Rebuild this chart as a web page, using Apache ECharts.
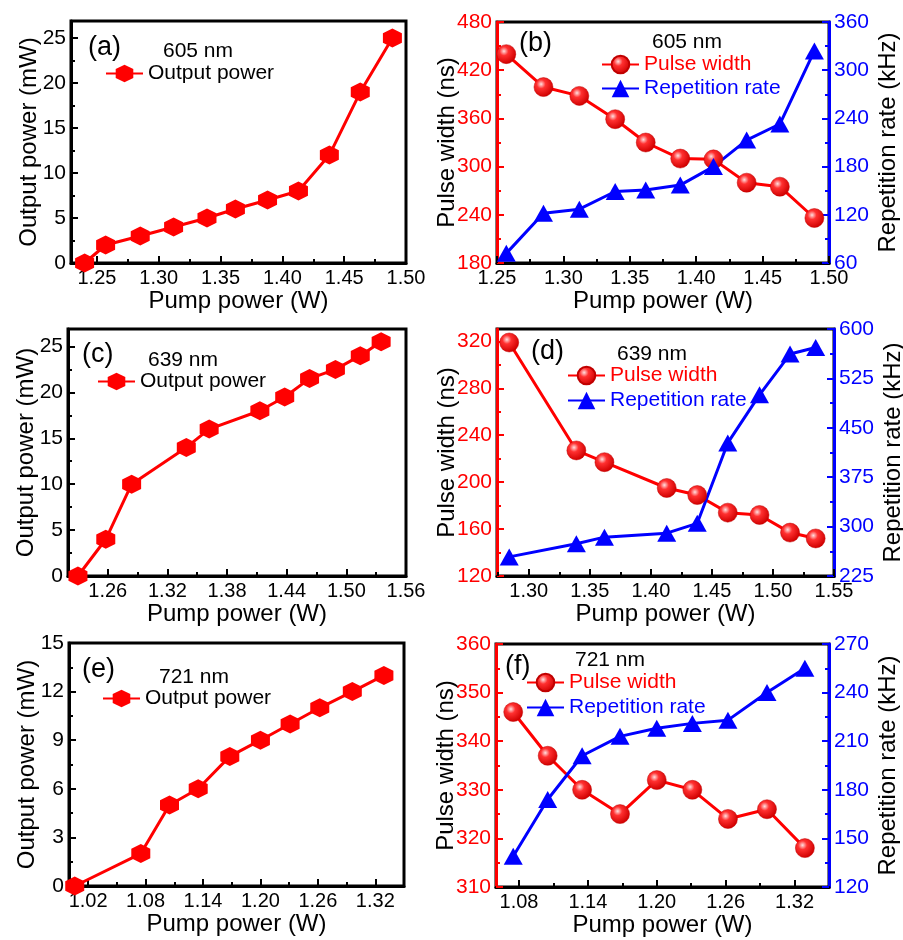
<!DOCTYPE html>
<html>
<head>
<meta charset="utf-8">
<script src="https://cdn.jsdelivr.net/npm/echarts@6/dist/echarts.min.js"></script>
<style>
  html, body { margin: 0; padding: 0; background: #fff; }
  #main { width: 903px; height: 940px; }
</style>
</head>
<body>
<div id="main"></div>
<script>
// ---- data ----
// (a) 605 nm output power
const pumpA = [1.240, 1.257, 1.285, 1.312, 1.339, 1.362, 1.388, 1.413, 1.438, 1.463, 1.489];
const powerA = [0, 2, 3, 4, 5, 6, 7, 8, 12, 19, 25];
// (b) 605 nm pulse width / repetition rate
const pumpB = [1.257, 1.285, 1.312, 1.339, 1.362, 1.388, 1.413, 1.438, 1.463, 1.489];
const widthB = [440, 399, 388, 359, 330, 310, 309, 280, 275, 236];
const rateB = [72, 122, 127, 149, 151, 157, 180, 213, 233, 324];
// (c) 639 nm output power
const pumpC = [1.230, 1.258, 1.284, 1.339, 1.362, 1.413, 1.438, 1.463, 1.489, 1.514, 1.535];
const powerC = [0, 4, 10, 14, 16, 18, 19.5, 21.5, 22.5, 24, 25.5];
// (d) 639 nm pulse width / repetition rate
const pumpD = [1.284, 1.339, 1.362, 1.413, 1.438, 1.463, 1.489, 1.514, 1.535];
const widthD = [319, 227, 217, 195, 189, 174, 172, 157, 152];
const rateD = [254, 274, 284, 290, 305, 427, 500, 562, 572];
// (e) 721 nm output power
const pumpE = [1.006, 1.075, 1.105, 1.135, 1.168, 1.200, 1.231, 1.262, 1.296, 1.329];
const powerE = [0, 2, 5, 6, 8, 9, 10, 11, 12, 13];
// (f) 721 nm pulse width / repetition rate
const pumpF = [1.075, 1.105, 1.135, 1.168, 1.200, 1.231, 1.262, 1.296, 1.329];
const widthF = [346, 337, 330, 325, 332, 330, 324, 326, 318];
const rateF = [139, 174, 201, 213, 218, 221, 223, 240, 255];

// tick labels
const ticksAX = [1.25, 1.30, 1.35, 1.40, 1.45, 1.50];
const ticksAY = [0, 5, 10, 15, 20, 25];
const ticksBX = [1.25, 1.30, 1.35, 1.40, 1.45, 1.50];
const ticksBL = [180, 240, 300, 360, 420, 480];
const ticksBR = [60, 120, 180, 240, 300, 360];
const ticksCX = [1.26, 1.32, 1.38, 1.44, 1.50, 1.56];
const ticksCY = [0, 5, 10, 15, 20, 25];
const ticksDX = [1.30, 1.35, 1.40, 1.45, 1.50, 1.55];
const ticksDL = [120, 160, 200, 240, 280, 320];
const ticksDR = [225, 300, 375, 450, 525, 600];
const ticksEX = [1.02, 1.08, 1.14, 1.20, 1.26, 1.32];
const ticksEY = [0, 3, 6, 9, 12, 15];
const ticksFX = [1.08, 1.14, 1.20, 1.26, 1.32];
const ticksFL = [310, 320, 330, 340, 350, 360];
const ticksFR = [120, 150, 180, 210, 240, 270];

const FONT = '"Liberation Sans", Arial, sans-serif';
const RED = '#ff0000';
const BLUE = '#0000ff';
const HEX = 'path://M0,-10 L8.66,-5 L8.66,5 L0,10 L-8.66,5 L-8.66,-5 Z';

function pairs(xs, ys) { return xs.map((x, i) => [x, ys[i]]); }

function minorsOf(majors, min, max) {
  const step = majors[1] - majors[0];
  const out = [];
  for (let i = -1; i < majors.length; i++) {
    const v = +(majors[0] + (i + 0.5) * step).toFixed(4);
    if (v > min + 1e-9 && v < max - 1e-9) out.push(v);
  }
  return out;
}

// main axis + companion axis carrying the short minor ticks
function axes(isX, grid, pos, min, max, majors, color, name, nameGap, dec) {
  const main = {
    type: 'value', gridIndex: grid, position: pos, offset: 0, min: min, max: max,
    name: name, nameLocation: 'middle', nameGap: nameGap, nameMoveOverlap: false,
    nameTextStyle: { fontSize: 24, color: '#000', fontFamily: FONT },
    axisLine: { show: true, onZero: false, lineStyle: { color: color, width: 3 } },
    axisTick: { show: true, inside: true, length: 7, customValues: majors, lineStyle: { color: color, width: 2 } },
    axisLabel: {
      customValues: majors, color: color, fontSize: isX ? 20 : 21, fontFamily: FONT,
      margin: 5, formatter: v => v.toFixed(dec)
    },
    splitLine: { show: false }
  };
  if (!isX) main.nameRotate = 90;
  const minor = {
    type: 'value', gridIndex: grid, position: pos, offset: 0, min: min, max: max,
    axisLine: { show: false, onZero: false },
    axisTick: { show: true, inside: true, length: 4, customValues: minorsOf(majors, min, max), lineStyle: { color: color, width: 2 } },
    axisLabel: { show: false },
    splitLine: { show: false }
  };
  return [main, minor];
}

const grids = [
  { left: 71, top: 21, width: 335, height: 242 },
  { left: 497, top: 22, width: 332, height: 241 },
  { left: 68, top: 329, width: 338, height: 247 },
  { left: 497, top: 329, width: 337, height: 247 },
  { left: 69, top: 643, width: 335, height: 243 },
  { left: 496, top: 644, width: 333, height: 243 }
].map(g => Object.assign(g, { show: true, borderColor: '#000', borderWidth: 3, outerBoundsMode: 'none', containLabel: false }));

const xAxis = [].concat(
  axes(true, 0, 'bottom', 1.229, 1.50, ticksAX, '#000', 'Pump power (W)', 26, 2),
  axes(true, 1, 'bottom', 1.25, 1.50, ticksBX, '#000', 'Pump power (W)', 26, 2),
  axes(true, 2, 'bottom', 1.22, 1.56, ticksCX, '#000', 'Pump power (W)', 26, 2),
  axes(true, 3, 'bottom', 1.274, 1.55, ticksDX, '#000', 'Pump power (W)', 26, 2),
  axes(true, 4, 'bottom', 1.00, 1.35, ticksEX, '#000', 'Pump power (W)', 26, 2),
  axes(true, 5, 'bottom', 1.06, 1.35, ticksFX, '#000', 'Pump power (W)', 26, 2)
);
// x main indices: 0,2,4,6,8,10

const yAxis = [].concat(
  axes(false, 0, 'left', 0, 26.9, ticksAY, '#000', 'Output power (mW)', 30, 0),     // 0,1
  axes(false, 1, 'left', 180, 480, ticksBL, RED, 'Pulse width (ns)', 38, 0),         // 2,3
  axes(false, 1, 'right', 60, 360, ticksBR, BLUE, 'Repetition rate (kHz)', 47, 0),   // 4,5
  axes(false, 2, 'left', 0, 26.9, ticksCY, '#000', 'Output power (mW)', 30, 0),     // 6,7
  axes(false, 3, 'left', 120, 330.5, ticksDL, RED, 'Pulse width (ns)', 38, 0),       // 8,9
  axes(false, 3, 'right', 225, 600, ticksDR, BLUE, 'Repetition rate (kHz)', 47, 0), // 10,11
  axes(false, 4, 'left', 0, 15, ticksEY, '#000', 'Output power (mW)', 30, 0),       // 12,13
  axes(false, 5, 'left', 310, 360, ticksFL, RED, 'Pulse width (ns)', 38, 0),         // 14,15
  axes(false, 5, 'right', 120, 270, ticksFR, BLUE, 'Repetition rate (kHz)', 47, 0)  // 16,17
);

const sphere = {
  type: 'radial', x: 0.38, y: 0.35, r: 0.65,
  colorStops: [
    { offset: 0, color: '#ffe0e0' },
    { offset: 0.35, color: '#ff3030' },
    { offset: 1, color: '#d00000' }
  ]
};

function powerSeries(xi, yi, xs, ys) {
  return {
    type: 'line', name: 'Output power', xAxisIndex: xi, yAxisIndex: yi,
    data: pairs(xs, ys), symbol: HEX, symbolSize: 19, z: 3,
    lineStyle: { color: RED, width: 3 }, itemStyle: { color: RED }
  };
}
function widthSeries(xi, yi, xs, ys) {
  return {
    type: 'line', name: 'Pulse width', xAxisIndex: xi, yAxisIndex: yi,
    data: pairs(xs, ys), symbol: 'circle', symbolSize: 19, z: 3,
    lineStyle: { color: RED, width: 3 }, itemStyle: { color: sphere, borderColor: '#c00000', borderWidth: 0.5 }
  };
}
function rateSeries(xi, yi, xs, ys) {
  return {
    type: 'line', name: 'Repetition rate', xAxisIndex: xi, yAxisIndex: yi,
    data: pairs(xs, ys), symbol: 'triangle', symbolSize: [19, 17], z: 3,
    lineStyle: { color: BLUE, width: 3 }, itemStyle: { color: BLUE }
  };
}

const series = [
  powerSeries(0, 0, pumpA, powerA),
  widthSeries(2, 2, pumpB, widthB),
  rateSeries(2, 4, pumpB, rateB),
  powerSeries(4, 6, pumpC, powerC),
  widthSeries(6, 8, pumpD, widthD),
  rateSeries(6, 10, pumpD, rateD),
  powerSeries(8, 12, pumpE, powerE),
  widthSeries(10, 14, pumpF, widthF),
  rateSeries(10, 16, pumpF, rateF)
];

function powerLegend(left, top) {
  return {
    left: left, top: top, padding: 0, orient: 'vertical', itemWidth: 37, itemHeight: 22,
    selectedMode: false,
    textStyle: { fontSize: 21, color: '#000', fontFamily: FONT },
    data: ['Output power']
  };
}
function pairLegend(left, top, gap) {
  return {
    left: left, top: top, padding: 0, orient: 'vertical', itemWidth: 37, itemHeight: 22, itemGap: gap,
    selectedMode: false,
    textStyle: { fontSize: 21, fontFamily: FONT },
    data: [
      { name: 'Pulse width', textStyle: { color: RED } },
      { name: 'Repetition rate', textStyle: { color: BLUE } }
    ]
  };
}

function txt(x, y, s, size) {
  return {
    type: 'text', x: x, y: y, silent: true,
    style: { text: s, font: size + 'px ' + FONT, fill: '#000', verticalAlign: 'middle' }
  };
}

const option = {
  backgroundColor: '#fff',
  animation: false,
  textStyle: { fontFamily: FONT },
  grid: grids,
  xAxis: xAxis,
  yAxis: yAxis,
  legend: [
    powerLegend(105, 63),
    pairLegend(601, 54, 3),
    powerLegend(97, 371),
    pairLegend(567, 365, 4),
    powerLegend(102, 688),
    pairLegend(526, 672, 4)
  ],
  graphic: [
    txt(88, 48, '(a)', 27), txt(163, 51, '605 nm', 21),
    txt(519, 44, '(b)', 27), txt(652, 42, '605 nm', 21),
    txt(82, 355, '(c)', 27), txt(148, 360, '639 nm', 21),
    txt(531, 352, '(d)', 27), txt(617, 354, '639 nm', 21),
    txt(82, 670, '(e)', 27), txt(159, 677, '721 nm', 21),
    txt(505, 667, '(f)', 27), txt(575, 660, '721 nm', 21)
  ],
  series: series
};

const chart = echarts.init(document.getElementById('main'), null, { renderer: 'canvas' });
chart.setOption(option);
</script>
</body>
</html>
